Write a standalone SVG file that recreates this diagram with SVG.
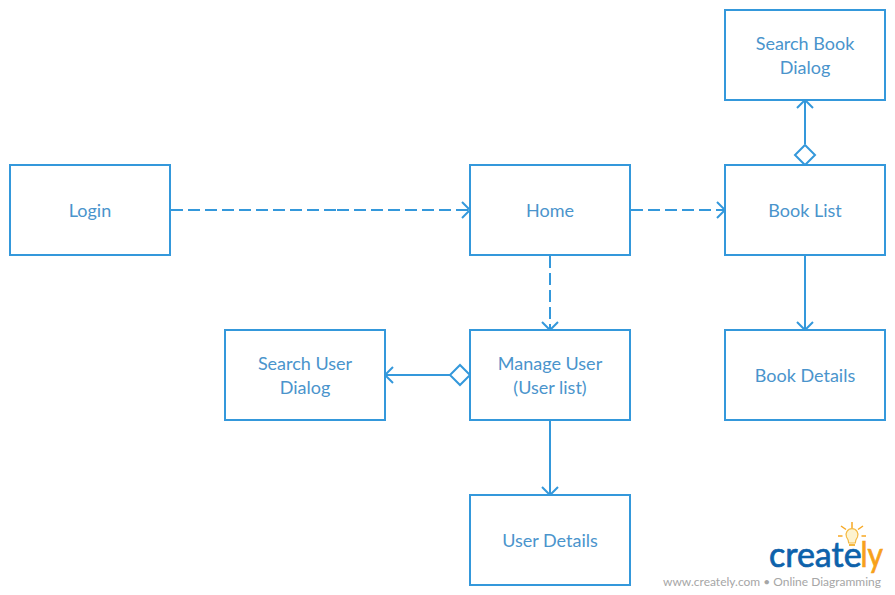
<svg xmlns="http://www.w3.org/2000/svg" width="895" height="595" viewBox="0 0 895 595">
<style>
.n{fill:#fff;stroke:#3498db;stroke-width:2}
.t{font-family:Lato,"Liberation Sans",sans-serif;font-size:18px;fill:#4a94cc;text-anchor:middle}
.c{fill:none;stroke:#3498db;stroke-width:2}
.d{stroke-dasharray:12 5}
.a{fill:none;stroke:#3498db;stroke-width:2}
.w{fill:#fff;stroke:#3498db;stroke-width:2}
.l{font-family:Lato,"Liberation Sans",sans-serif;font-size:34px;stroke-width:.7}
</style>
<rect width="895" height="595" fill="#fff"/>
<g id="connectors">
<path class="c d" d="M171 210H337"/><path class="c d" d="M337 210H469"/><path class="a" d="M462 202L470 210L462 218"/>
<path class="c d" d="M631 210H724"/><path class="a" d="M717 202L725 210L717 218"/>
<path class="c d" d="M550 256V329"/><path class="a" d="M542 322L550 330L558 322"/>
<path class="c" d="M805 144V101"/><path class="a" d="M797 108L805 100L813 108"/><path class="w" d="M805 145L815 155L805 165L795 155Z"/>
<path class="c" d="M805 256V329"/><path class="a" d="M797 322L805 330L813 322"/>
<path class="c" d="M450 375H386"/><path class="a" d="M393 367L385 375L393 383"/><path class="w" d="M470 375L460 385L450 375L460 365Z"/>
<path class="c" d="M550 421V494"/><path class="a" d="M542 487L550 495L558 487"/>
</g>
<g id="login"><rect class="n" x="10" y="165" width="160" height="90"/><text class="t" x="90" y="216.500">Login</text></g>
<g id="home"><rect class="n" x="470" y="165" width="160" height="90"/><text class="t" x="550" y="216.500">Home</text></g>
<g id="book-list"><rect class="n" x="725" y="165" width="160" height="90"/><text class="t" x="805" y="216.500">Book List</text></g>
<g id="search-book"><rect class="n" x="725" y="10" width="160" height="90"/><text class="t" x="805" y="49.500">Search Book</text><text class="t" x="805" y="73.500">Dialog</text></g>
<g id="book-details"><rect class="n" x="725" y="330" width="160" height="90"/><text class="t" x="805" y="381.500">Book Details</text></g>
<g id="manage-user"><rect class="n" x="470" y="330" width="160" height="90"/><text class="t" x="550" y="369.500">Manage User</text><text class="t" x="550" y="393.500">(User list)</text></g>
<g id="search-user"><rect class="n" x="225" y="330" width="160" height="90"/><text class="t" x="305" y="369.500">Search User</text><text class="t" x="305" y="393.500">Dialog</text></g>
<g id="user-details"><rect class="n" x="470" y="495" width="160" height="90"/><text class="t" x="550" y="546.500">User Details</text></g>
<g id="logo">
<path d="M846.500 537a6 6 0 1 1 11 0c-1.500 2-2 3.500-2.200 6h-6.600c-.2-2.500-.7-4-2.200-6z" fill="#fdf3d0" stroke="#f5b942" stroke-width="1.200"/>
<path d="M849 545h6" stroke="#f5b942" stroke-width="2"/>
<path d="M852 522v6M841 526l5 3.500M863 526l-5 3.500M838 536h4.500M866 536h-4.500" stroke="#f7a823" stroke-width="1.500"/>
<text class="l" x="769" y="567" fill="#0d62ab" stroke="#0d62ab">create</text>
<text class="l" x="860.500" y="567" fill="#f7a11a" stroke="#f7a11a" textLength="22.500" lengthAdjust="spacingAndGlyphs">ly</text>
<text x="663" y="586" font-family="Lato,'Liberation Sans',sans-serif" font-size="12" fill="#a6a6a6" textLength="218" lengthAdjust="spacingAndGlyphs">www.creately.com • Online Diagramming</text>
</g>
</svg>
